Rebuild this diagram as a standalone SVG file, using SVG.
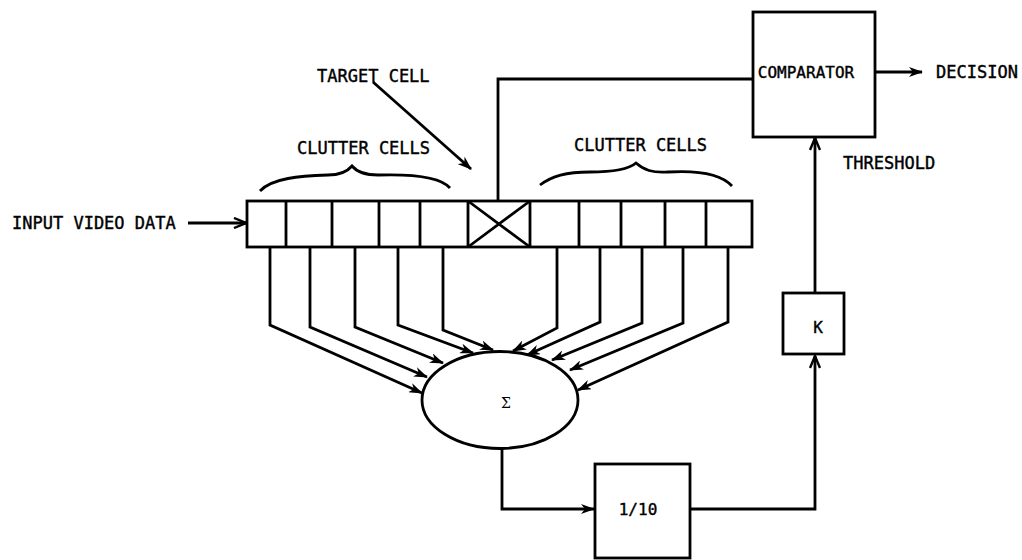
<svg xmlns="http://www.w3.org/2000/svg" width="1022" height="560" viewBox="0 0 1022 560">
<defs>
<style>
.ln{fill:none;stroke:#000;stroke-width:2.8;stroke-linejoin:miter}
.bx{fill:#fff;stroke:#000;stroke-width:2.8}
.t{font-family:"DejaVu Sans Mono","Liberation Mono",monospace;font-size:17px;fill:#000;stroke:#000;stroke-width:0.4}
.tc{font-family:"DejaVu Sans Mono","Liberation Mono",monospace;font-size:16px;fill:#000;stroke:#000;stroke-width:0.4;text-anchor:middle}
</style>
<marker id="af" viewBox="0 0 14 10" refX="13" refY="5" markerWidth="14" markerHeight="10" markerUnits="userSpaceOnUse" orient="auto">
<path d="M0,0 L14,5 L0,10 L4,5 Z" fill="#000"/>
</marker>
<marker id="ao" viewBox="0 0 14 12" refX="13" refY="6" markerWidth="14" markerHeight="12" markerUnits="userSpaceOnUse" orient="auto">
<path d="M1,1 L13,6 L1,11" fill="none" stroke="#000" stroke-width="2.4"/>
</marker>
</defs>
<rect width="1022" height="560" fill="#fff"/>

<g id="connectors">
<path class="ln" d="M188,223 H246" marker-end="url(#ao)"/>
<path class="ln" d="M270,248 V325 L422,393" marker-end="url(#af)"/>
<path class="ln" d="M310,248 V327 L427,377" marker-end="url(#af)"/>
<path class="ln" d="M355,248 V327 L443,363" marker-end="url(#af)"/>
<path class="ln" d="M398,248 V325 L473,353" marker-end="url(#af)"/>
<path class="ln" d="M443,248 V330 L493,350" marker-end="url(#af)"/>
<path class="ln" d="M557,248 V328 L513,351" marker-end="url(#af)"/>
<path class="ln" d="M600,248 V322 L527,355" marker-end="url(#af)"/>
<path class="ln" d="M642,248 V323 L552,360" marker-end="url(#af)"/>
<path class="ln" d="M683,248 V323 L570,370" marker-end="url(#af)"/>
<path class="ln" d="M728,248 V322 L578,390" marker-end="url(#af)"/>
<path class="ln" d="M502,448 V509 H594" marker-end="url(#af)"/>
<path class="ln" d="M690,509 H815 V356" marker-end="url(#ao)"/>
<path class="ln" d="M815,293 V138" marker-end="url(#ao)"/>
<path class="ln" d="M498,201 V79 H753"/>
<path class="ln" d="M875,72 H922" marker-end="url(#af)"/>
<path class="ln" d="M373,82 L471,169" marker-end="url(#af)"/>
</g>

<g id="braces">
<path class="ln" d="M260,191 C272,178 300,176 328,175 C340,175 347,172 352,166 C357,172 364,175 378,175 C410,174 440,176 450,188"/>
<path class="ln" d="M540,185 C552,176 566,172 590,172 C612,172 628,170 636,163 C644,170 652,173 668,172 C700,170 722,175 732,186"/>
</g>

<g id="cells">
<rect class="bx" x="247" y="201" width="505" height="46" stroke-width="3.2"/>
<path class="ln" d="M286,201 V247 M332,201 V247 M379,201 V247 M420,201 V247 M468,201 V247 M530,201 V247 M579,201 V247 M621,201 V247 M665,201 V247 M706,201 V247"/>
<path class="ln" stroke-width="3.2" d="M468,201 L530,247 M468,247 L530,201"/>
</g>

<g id="sum">
<ellipse class="bx" cx="500" cy="400" rx="78" ry="48.5"/>
<text x="506" y="408" font-family="'DejaVu Serif','Liberation Serif',serif" font-size="14" text-anchor="middle">Σ</text>
</g>

<g id="divider">
<rect class="bx" x="595" y="464" width="95" height="94"/>
<text class="tc" x="638" y="515">1/10</text>
</g>

<g id="k">
<rect class="bx" x="783" y="293" width="61" height="61"/>
<text class="tc" x="818" y="333">K</text>
</g>

<g id="comparator">
<rect class="bx" x="753" y="12" width="122" height="125"/>
<text class="tc" x="806" y="78">COMPARATOR</text>
</g>

<g id="labels">
<text class="t" x="12" y="229">INPUT VIDEO DATA</text>
<text class="t" x="317" y="82">TARGET CELL</text>
<text class="t" x="297" y="154">CLUTTER CELLS</text>
<text class="t" x="574" y="151">CLUTTER CELLS</text>
<text class="t" x="843" y="169">THRESHOLD</text>
<text class="t" x="936" y="78">DECISION</text>
</g>
</svg>
